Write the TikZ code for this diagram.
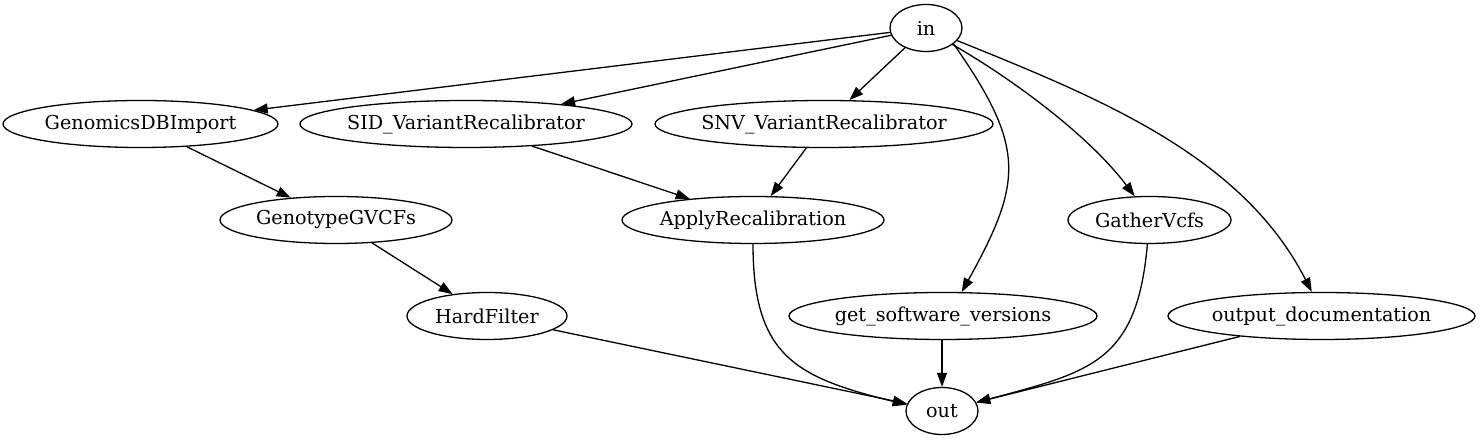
\documentclass[tikz,border=0pt]{standalone}
\usepackage{fontspec}
\setmainfont{DejaVu Serif}
\usetikzlibrary{arrows.meta,positioning,shapes.geometric}

\begin{document}
\begin{tikzpicture}[
    x=1pt, y=1pt,
    >={Triangle[length=14pt,width=10pt]},
    % Styles
    job/.style={ellipse, draw, line width=1.3pt, inner ysep=0pt, inner xsep=-5pt,
        minimum height=47pt, font=\fontsize{19.2}{22}\selectfont},
    flow/.style={->, line width=1.3pt}
    ]
    
    \useasboundingbox (0,0) rectangle (1481,443);
    
    % Rows
    \def\rowA{415}
    \def\rowB{319}
    \def\rowC{223}
    \def\rowD{127}
    \def\rowE{32}
    
    % Nodes
    \node[job, minimum width=72pt]  (in)     at (926,\rowA)    {in};
    \node[job, minimum width=275pt] (gdb)    at (140.5,\rowB)  {GenomicsDBImport};
    \node[job, minimum width=332pt] (sid)    at (466,\rowB)    {SID\_VariantRecalibrator};
    \node[job, minimum width=338pt] (snv)    at (824,\rowB)    {SNV\_VariantRecalibrator};
    \node[job, minimum width=232pt] (ggv)    at (336,\rowC)    {GenotypeGVCFs};
    \node[job, minimum width=262pt] (apply)  at (753,\rowC)    {ApplyRecalibration};
    \node[job, minimum width=163pt] (gather) at (1149.5,\rowC) {GatherVcfs};
    \node[job, minimum width=160pt] (hard)   at (487,\rowD)    {HardFilter};
    \node[job, minimum width=308pt] (gsv)    at (943,\rowD)    {get\_software\_versions};
    \node[job, minimum width=307pt] (outdoc) at (1321.5,\rowD) {output\_documentation};
    \node[job, minimum width=72pt]  (out)    at (942,\rowE)    {out};
    
    % Edges from in
    \draw[flow] (in) -- (gdb);
    \draw[flow] (in) -- (sid);
    \draw[flow] (in) -- (snv);
    \draw[flow] (in.-30) to[out=-55, in=61, looseness=1.3] (gsv.52);
    \draw[flow] (in.-32) to[out=-30, in=127, looseness=0.8] (gather.122);
    \draw[flow] (in.-22) to[out=-22, in=117, looseness=0.9] (outdoc.112);
    
    % Middle edges
    \draw[flow] (gdb) -- (ggv);
    \draw[flow] (ggv) -- (hard);
    \draw[flow] (sid) -- (apply);
    \draw[flow] (snv) -- (apply);
    
    % Edges into out
    \draw[flow] (hard) -- (out);
    \draw[flow] (apply.-90) to[out=-90, in=166, looseness=1.3] (out.170);
    \draw[flow] (gsv.south -| out.north) -- (out);
    \draw[flow] (gather.-95) to[out=-95, in=15, looseness=1.3] (out.14);
    \draw[flow] (outdoc) -- (out);
\end{tikzpicture}
\end{document}
